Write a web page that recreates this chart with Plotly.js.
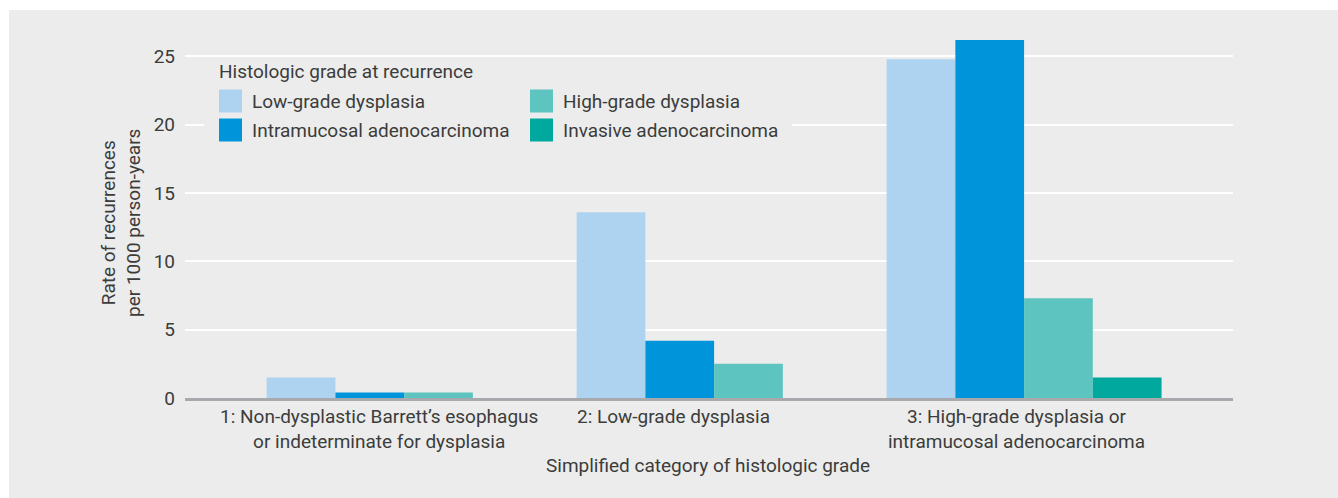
<!DOCTYPE html>
<html>
<head>
<meta charset="utf-8">
<script src="https://cdn.plot.ly/plotly-3.0.1.min.js"></script>
<style>
  html, body { margin: 0; padding: 0; background: #ffffff; }
  #panel { position: absolute; left: 9px; top: 10px; right: 0; bottom: 0; background: #ebeceb; }
  #chart { position: absolute; left: 0; top: 0; width: 1338px; height: 498px; }
</style>
</head>
<body>
<div id="panel"></div>
<div id="chart"></div>
<script>
// ---- data ----
const categories = [
  "1: Non-dysplastic Barrett’s esophagus<br>or indeterminate for dysplasia",
  "2: Low-grade dysplasia",
  "3: High-grade dysplasia or<br>intramucosal adenocarcinoma"
];
const seriesNames = [
  "Low-grade dysplasia",
  "Intramucosal adenocarcinoma",
  "High-grade dysplasia",
  "Invasive adenocarcinoma"
];
const lowGradeDysplasia = [1.5, 13.6, 24.8];
const intramucosalAdenocarcinoma = [0.4, 4.2, 26.2];
const highGradeDysplasia = [0.4, 2.5, 7.3];
const invasiveAdenocarcinoma = [0, 0, 1.5];
const yTickValues = [0, 5, 10, 15, 20, 25];
const legendTitle = "Histologic grade at recurrence";
const xAxisTitle = "Simplified category of histologic grade";
const yAxisTitle = "Rate of recurrences<br>per 1000 person-years";

// ---- styling ----
const colors = ["#aed3f0", "#0095da", "#5dc4c0", "#00a89e"];
const seriesValues = [lowGradeDysplasia, intramucosalAdenocarcinoma, highGradeDysplasia, invasiveAdenocarcinoma];
const FONT = "Roboto, 'Noto Sans', sans-serif";
const TEXT = "#3c3c3b";
const BG = "#ebeceb";

const W = 1338, H = 498;
const M = {l: 185, r: 105, t: 36, b: 100};
const PW = W - M.l - M.r, PH = H - M.t - M.b;
const px2x = p => (p - M.l) / PW;
const py2y = p => (H - M.b - p) / PH;

const traces = seriesNames.map((name, i) => ({
  type: "bar",
  name: name,
  x: categories,
  y: seriesValues[i],
  marker: {color: colors[i], line: {width: 0}},
  showlegend: false,
  hoverinfo: "x+y+name"
}));

const annotations = [];
const shapes = [];

// category labels (positioned as in the reference)
const labelPos = [-0.08, 0.87, 1.977];
categories.forEach((c, i) => {
  annotations.push({
    xref: "x", yref: "paper", x: labelPos[i], y: py2y(403),
    xanchor: "center", yanchor: "top", showarrow: false,
    text: c, align: "center",
    font: {family: FONT, size: 19, color: TEXT}
  });
});
// x axis title
annotations.push({
  xref: "paper", yref: "paper", x: px2x(708), y: py2y(465),
  xanchor: "center", yanchor: "middle", showarrow: false,
  text: xAxisTitle, font: {family: FONT, size: 19, color: TEXT}
});
// y axis title
annotations.push({
  xref: "paper", yref: "paper", x: px2x(121), y: py2y(223),
  xanchor: "center", yanchor: "middle", showarrow: false, textangle: -90,
  text: yAxisTitle, align: "center", font: {family: FONT, size: 19, color: TEXT}
});

// custom legend: background box hiding gridlines
shapes.push({
  type: "rect", xref: "paper", yref: "paper", layer: "above",
  x0: px2x(204), x1: px2x(792), y0: py2y(146), y1: py2y(60),
  fillcolor: BG, line: {width: 0}
});
annotations.push({
  xref: "paper", yref: "paper", x: px2x(217), y: py2y(72),
  xanchor: "left", yanchor: "middle", showarrow: false,
  text: legendTitle, font: {family: FONT, size: 19, color: TEXT}
});
const legendCols = [219, 530];
const legendRows = [101, 130];
const legendOrder = [0, 2, 1, 3]; // row-major: LGD, HGD / IMC, Invasive
legendOrder.forEach((s, k) => {
  const col = k % 2, row = Math.floor(k / 2);
  const x0 = legendCols[col], yc = legendRows[row];
  shapes.push({
    type: "rect", xref: "paper", yref: "paper", layer: "above",
    x0: px2x(x0), x1: px2x(x0 + 23), y0: py2y(yc + 11.5), y1: py2y(yc - 11.5),
    fillcolor: colors[s], line: {width: 0}
  });
  annotations.push({
    xref: "paper", yref: "paper", x: px2x(x0 + 31), y: py2y(yc),
    xanchor: "left", yanchor: "middle", showarrow: false,
    text: seriesNames[s], font: {family: FONT, size: 19, color: TEXT}
  });
});

const layout = {
  width: W, height: H,
  margin: M,
  paper_bgcolor: "rgba(0,0,0,0)",
  plot_bgcolor: "rgba(0,0,0,0)",
  barmode: "group",
  bargap: 0.113,
  bargroupgap: 0,
  showlegend: false,
  font: {family: FONT, size: 19, color: TEXT},
  xaxis: {
    type: "category",
    range: [-0.707, 2.674],
    showticklabels: false,
    showgrid: false,
    zeroline: false,
    showline: true,
    linecolor: "#a7a9ac",
    linewidth: 3,
    ticks: "",
    fixedrange: true
  },
  yaxis: {
    range: [0, 26.5],
    tickmode: "array",
    tickvals: yTickValues,
    ticktext: yTickValues.map(String),
    showgrid: true,
    gridcolor: "#ffffff",
    gridwidth: 2,
    zeroline: false,
    showline: false,
    ticks: "",
    ticklabelstandoff: 9,
    tickfont: {family: FONT, size: 19, color: TEXT},
    fixedrange: true
  },
  shapes: shapes,
  annotations: annotations
};

Plotly.newPlot("chart", traces, layout, {displayModeBar: false, staticPlot: true});
</script>
</body>
</html>
